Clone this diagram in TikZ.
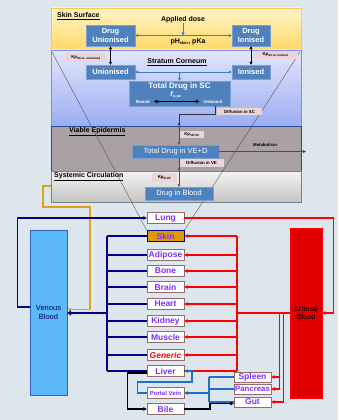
\documentclass[tikz,border=0pt]{standalone}
\usepackage{fontspec}
\setmainfont{Liberation Sans}
\usetikzlibrary{arrows.meta,calc}
\definecolor{bgc}{HTML}{DCE6EC}
\definecolor{ytop}{HTML}{FFF4C8}
\definecolor{ybot}{HTML}{FFD966}
\definecolor{sctop}{HTML}{E2E6FB}
\definecolor{scbot}{HTML}{9CADF2}
\definecolor{vec}{HTML}{A9A1A3}
\definecolor{sytop}{HTML}{F4F4F4}
\definecolor{sybot}{HTML}{C4C4C4}
\definecolor{boxb}{HTML}{4F81BD}
\definecolor{boxbd}{HTML}{7A9FD0}
\definecolor{pinkl}{HTML}{EBD5D9}
\definecolor{lblue}{HTML}{3A7FD0}
\definecolor{navyc}{HTML}{000080}
\definecolor{redc}{HTML}{FF0000}
\definecolor{orgp}{HTML}{7F2FFF}
\definecolor{orangec}{HTML}{E0A020}
\definecolor{skinf}{HTML}{E09A00}
\definecolor{portalc}{HTML}{1F6FC8}
\definecolor{venf}{HTML}{5CB8F8}
\definecolor{venb}{HTML}{3060C0}
\definecolor{artf}{HTML}{E00000}
\newcommand\orgfont{\fontsize{8.5}{9}\selectfont\bfseries}
\newcommand\lblfont{\fontsize{7}{8}\selectfont\bfseries}
\newcommand\tinyfont{\fontsize{4.3}{5}\selectfont\bfseries}
\tikzset{
  tip/.tip={Triangle[length=3.5pt,width=3.5pt]},
  bbox/.style={draw=boxbd, fill=boxb, text=white, inner sep=0pt, font=\fontsize{7.5}{8.5}\selectfont\bfseries, align=center},
  bboxn/.style={draw=boxbd, fill=boxb, text=white, inner sep=0pt, font=\fontsize{7.5}{8.5}\selectfont},
  pinklbl/.style={fill=pinkl, inner sep=0pt, font=\tinyfont},
  organ/.style={draw=gray!60!red!40!gray, fill=white, minimum width=37pt, minimum height=11pt, inner sep=0pt, font=\orgfont, text=orgp},
  navyline/.style={draw=navyc, line width=1.1pt},
  redline/.style={draw=redc, line width=1.1pt},
  portline/.style={draw=portalc, line width=1.1pt},
  blkline/.style={draw=black, line width=1.1pt},
}
\begin{document}
\begin{tikzpicture}[x=1pt,y=-1pt]
\useasboundingbox (0,0) rectangle (338,420);
\fill[bgc] (0,0) rectangle (338,420);
% panels
\shade[top color=ytop, bottom color=ybot] (51,8) rectangle (301,50);
\draw[ybot!80!orange, line width=0.6pt] (51,8) rectangle (301,50);
\shade[top color=sctop, bottom color=scbot] (51,50) rectangle (301,126);
\draw[scbot!80!blue, line width=0.5pt] (51,50) rectangle (301,126);
\fill[vec] (51,126) rectangle (301,171);
\draw[venb!80!black, line width=0.6pt] (51,126) rectangle (301,171);
\shade[top color=sytop, bottom color=sybot] (51,171) rectangle (301,202);
\draw[gray, line width=0.6pt] (51,171) rectangle (301,202);
% panel labels
\node[anchor=west, font=\lblfont, inner sep=0pt] (lss) at (57,16) {\underline{Skin Surface}};
\node[font=\lblfont, inner sep=0pt] (applied) at (183,20) {Applied dose};
\node[font=\lblfont, inner sep=0pt] (ph) at (188,41.5) {pH\textsubscript{\fontsize{4}{4}\selectfont skin}, pKa};
\node[font=\lblfont, inner sep=0pt] (lsc) at (177,62) {\underline{Stratum Corneum}};
\node[anchor=west, font=\lblfont, inner sep=0pt] (lve) at (69,132) {\underline{Viable Epidermis}};
\node[anchor=west, font=\lblfont, inner sep=0pt] (lsy) at (54,177) {\underline{Systemic Circulation}};
% organ boxes (needed for diagonal lines)
\node[organ] (lung) at (165.5,218) {Lung};
\node[organ, fill=skinf, draw=navyc, line width=1pt] (skin) at (165.5,236) {Skin};
% diagonal lines
\coordinate (dtl) at (52,52);
\coordinate (dtr) at (300,52);
\draw[black!70, line width=0.35pt] (dtl) -- (skin.north west);
\draw[black!70, line width=0.35pt] (dtr) -- (skin.north east);
% blue boxes
\node[bbox, minimum width=49pt, minimum height=21pt] (du) at (110.5,35.5) {Drug\\Unionised};
\node[bbox, minimum width=38pt, minimum height=21pt] (di) at (251,35.5) {Drug\\Ionised};
\node[bbox, minimum width=49pt, minimum height=14pt] (un) at (110.5,72) {Unionised};
\node[bbox, minimum width=38pt, minimum height=14pt] (io) at (251,72) {Ionised};
\node[bbox, minimum width=101pt, minimum height=25pt] (tsc) at (179.5,93.5) {};
\node[text=white, font=\fontsize{8}{9}\selectfont\bfseries, inner sep=0pt] (tsct) at (179.5,86.5) {Total Drug in SC};
\node[text=white, font=\fontsize{7}{8}\selectfont\bfseries, inner sep=0pt] (fu) at (176,94.5) {\textit{f}\textsubscript{\fontsize{4}{4}\selectfont u,sc}};
\node[text=white, font=\tinyfont, inner sep=0pt] (bound) at (143,101.5) {Bound};
\node[text=white, font=\tinyfont, inner sep=0pt] (unbound) at (213,101.5) {Unbound};
\node[bboxn, minimum width=87pt, minimum height=13pt] (ve) at (175.5,151.5) {Total Drug in VE+D};
\node[bboxn, minimum width=68pt, minimum height=13pt] (blood) at (179,193.5) {Drug in Blood};
% pink labels
\node[pinklbl, minimum width=40pt, minimum height=9pt] (kpu) at (86,57.5) {Kp\textsubscript{\fontsize{3}{3}\selectfont SC:w, unionised}};
\node[pinklbl, minimum width=45pt, minimum height=8pt] (kpi) at (275.5,55) {Kp\textsubscript{\fontsize{3}{3}\selectfont SC:w, ionised}};
\node[pinklbl, minimum width=45pt, minimum height=7pt] (ldsc) at (239.5,111.5) {Diffusion in SC};
\node[pinklbl, minimum width=24pt, minimum height=7pt] (kpve) at (192,134.5) {Kp\textsubscript{\fontsize{3}{3}\selectfont VE:SC}};
\node[pinklbl, minimum width=45pt, minimum height=8pt] (ldve) at (201.5,163) {Diffusion in VE};
\node[pinklbl, minimum width=25pt, minimum height=9pt] (kpb) at (164.5,177.5) {Kp\textsubscript{\fontsize{3}{3}\selectfont B:VE}};
\node[font=\tinyfont, inner sep=0pt] (lmet) at (265,145) {Metabolism};
% top connectors
\draw[lblue, line width=0.8pt, -{Triangle[length=3pt,width=3pt]}] (applied.south) -- (applied.south |- du.east);
\draw[lblue, line width=0.8pt, {Triangle[length=3pt,width=3pt]}-{Triangle[length=3pt,width=3pt]}] (du.east) -- (di.west);
\draw[black, line width=0.9pt, {Triangle[length=3pt,width=3pt]}-{Triangle[length=3pt,width=3pt]}] (du.south) -- (un.north);
\draw[black, line width=0.9pt, {Triangle[length=3pt,width=3pt]}-{Triangle[length=3pt,width=3pt]}] (di.south) -- (io.north);
\draw[lblue, line width=0.8pt, {Triangle[length=3pt,width=3pt]}-{Triangle[length=3pt,width=3pt]}] (un.east) -- (io.west);
\coordinate (ujn) at (179.5,72);
\draw[lblue, line width=0.8pt, -{Triangle[length=3pt,width=3pt]}] (ujn) -- (tsc.north);
\draw[black, line width=1.2pt, {Triangle[length=3.5pt,width=3.5pt]}-{Triangle[length=3.5pt,width=3.5pt]}] (bound.east) ++(4,0) -- ([xshift=-4pt]unbound.west);
\coordinate (dsc) at ($(tsc.south east)+(-15,0)$);
\coordinate (vetop) at (179,126);
\coordinate (sctop) at (179,171);
\draw[black!80, line width=0.7pt, -{Triangle[length=2.5pt,width=2.5pt]}] (dsc) |- ($(vetop)+(0,-12)$) -- (vetop);
\draw[black!70, line width=0.5pt, -{Triangle[length=2.5pt,width=2.5pt]}] (vetop) -- (vetop |- ve.north);
\draw[black!70, line width=0.5pt, -{Triangle[length=2.5pt,width=2.5pt]}] (vetop |- ve.south) -- (sctop);
\draw[black!70, line width=0.5pt, -{Triangle[length=2.5pt,width=2.5pt]}] (sctop) -- (blood.north);
\coordinate (metend) at (306,151.5);
\draw[black!70, line width=0.5pt, -{Triangle[length=3pt,width=3pt]}] (ve.east) -- (metend);
% blood compartments
\node[draw=venb, fill=venf, minimum width=37pt, minimum height=165pt, inner sep=0pt, align=center, font=\fontsize{7.5}{8.5}\selectfont, text=navyc!70!black] (venous) at (48.5,312.5) {Venous\\Blood};
\node[draw=redc, fill=artf, minimum width=32pt, minimum height=170pt, inner sep=0pt, align=center, font=\fontsize{7.5}{8.5}\selectfont, text=black] (arterial) at (306,313) {Arterial\\Blood};
% organs
\node[organ] (adipose) at (165.5,255) {Adipose};
\node[organ] (bone) at (165.5,271) {Bone};
\node[organ] (brain) at (165.5,287) {Brain};
\node[organ] (heart) at (165.5,304) {Heart};
\node[organ] (kidney) at (165.5,321) {Kidney};
\node[organ] (muscle) at (165.5,337) {Muscle};
\node[organ, text=redc, font=\orgfont\itshape] (generic) at (165.5,355) {Generic};
\node[organ] (liver) at (165.5,371) {Liver};
\node[organ, font=\fontsize{6}{7}\selectfont\bfseries] (portal) at (165.5,393) {Portal Vein};
\node[organ] (bile) at (165.5,409) {Bile};
\node[organ, minimum height=10pt] (spleen) at (252.5,377) {Spleen};
\node[organ, minimum height=10pt, font=\fontsize{7.8}{9}\selectfont\bfseries] (pancreas) at (252.5,389) {Pancreas};
\node[organ, minimum height=10pt] (gut) at (252.5,402) {Gut};
% orange link
\coordinate (oStart) at (51,186);
\draw[orangec, line width=1.1pt, -{Triangle[length=3.5pt,width=3.5pt]}] (oStart) -- ++(-8,0) |- (90,207) |- ([yshift=3pt]venous.east);
% venous side
\coordinate (vbus) at (107,0);
\foreach \o in {skin,adipose,bone,brain,heart,kidney,muscle,generic,liver}{
  \draw[navyline] (\o.west) -- (\o.west -| vbus);
}
\draw[navyline] (skin.west -| vbus) -- (liver.west -| vbus);
\coordinate (vjn) at (107,313);
\draw[navyc, line width=2.6pt, -{Triangle[length=4pt,width=5pt]}] (vjn) -- (vjn -| venous.east);
\draw[navyline, -tip] ([yshift=5.5pt]venous.west) -- ++(-12,0) |- (lung.west);
% arterial side
\coordinate (abus) at (237,0);
\foreach \o in {skin,adipose,bone,brain,heart,kidney,muscle,generic}{
  \draw[redline, -tip] (\o.east -| abus) -- (\o.east);
}
\draw[redline] (liver.east -| abus) -- (liver.east);
\draw[redline] (skin.east -| abus) -- (liver.east -| abus);
\coordinate (ajn) at (237,313);
\draw[redc, line width=2.6pt] (ajn) -- (arterial.west);
\draw[redline, -tip] (lung.east) -| ([xshift=11pt]arterial.east) -- (arterial.east);
\coordinate (ra) at (279.5,313);
\coordinate (rb) at (283.5,313);
\draw[redline, -tip] (ra) |- (pancreas.east);
\draw[redline, -tip] (spleen.east -| ra) -- (spleen.east);
\draw[redline, -tip] (rb) |- (gut.east);
% portal system
\coordinate (pbus) at (209,0);
\draw[portline] (spleen.west) -- (spleen.west -| pbus);
\draw[portline] (pancreas.west) -- (pancreas.west -| pbus);
\draw[portline] (gut.west) -- (gut.west -| pbus);
\draw[portline] (spleen.west -| pbus) -- (gut.west -| pbus);
\draw[portline, -tip] (portal.east -| pbus) -- (portal.east);
\coordinate (pl) at (192,382);
\draw[portline, -tip] (portal.west) -- ++(-9,0) |- (pl) |- (liver.east);
% bile
\draw[blkline, -tip] ([yshift=-2pt]liver.west) -- ++(-19,0) |- (bile.west);
\coordinate (bj) at (210,0);
\draw[blkline, -tip] (bile.east) -| ([yshift=-1.5pt]gut.west -| bj) -- ([yshift=-1.5pt]gut.west);
\end{tikzpicture}
\end{document}
